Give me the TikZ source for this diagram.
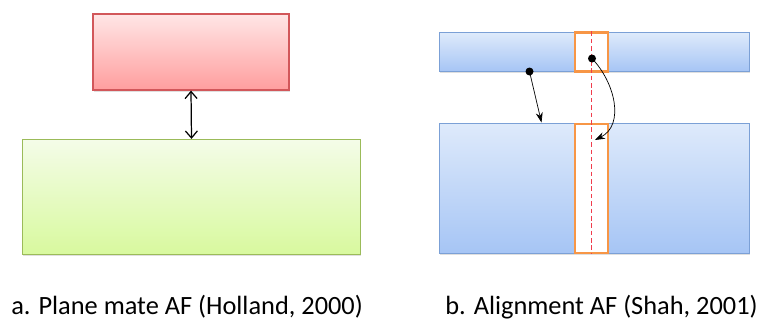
\documentclass[tikz,border=0pt]{standalone}
\usepackage{fontspec}
\setmainfont{Carlito}
\usepackage{xcolor}
\usetikzlibrary{arrows.meta, positioning, calc, shadows}
\definecolor{redtop}{HTML}{FFE6E6}
\definecolor{redbot}{HTML}{FF9E9E}
\definecolor{redline}{HTML}{D2575A}
\definecolor{greentop}{HTML}{F4FCE8}
\definecolor{greenbot}{HTML}{D8F99E}
\definecolor{greenline}{HTML}{9BBB59}
\definecolor{bluetop}{HTML}{DEEAFB}
\definecolor{bluebot}{HTML}{A6C5F5}
\definecolor{blueline}{HTML}{7BA0D6}
\definecolor{orangeline}{HTML}{F79646}
\definecolor{axisred}{HTML}{F03C4C}
\tikzset{
	plate/.style={rectangle, draw, line width=0.7pt, inner sep=0pt,
		drop shadow={opacity=0.25, shadow xshift=0.4pt, shadow yshift=-0.9pt}},
	caption/.style={font=\fontsize{15}{18}\selectfont, inner sep=0pt, anchor=base west}
}

\begin{document}
\begin{tikzpicture}[
	redplate/.style={plate, draw=redline, top color=redtop, bottom color=redbot},
	greenplate/.style={plate, draw=greenline, top color=greentop, bottom color=greenbot},
	blueplate/.style={plate, draw=blueline, top color=bluetop, bottom color=bluebot},
	window/.style={rectangle, draw=orangeline, line width=1.2pt, fill=white, inner sep=0pt, minimum width=6.5mm},
	dot/.style={circle, fill=black, inner sep=0pt, minimum size=1.6mm},
	centreline/.style={draw=axisred, line width=1.1pt, dash pattern=on 2.6pt off 1.6pt},
	>={Stealth[length=2mm, width=1.4mm]}
	]
	\useasboundingbox (0,0) rectangle (15.24,6.4);
	
	% Plane mate: upper and lower plates
	\node[redplate, minimum width=39.2mm, minimum height=15.2mm] (upper_plate) at (3.82,5.36) {};
	\node[greenplate, minimum width=67.5mm, minimum height=23mm] (lower_plate) at (3.83,2.46) {};
	\draw[{Straight Barb[length=1.4mm, width=2.4mm]}-{Straight Barb[length=1.4mm, width=2.4mm]}, line width=0.7pt]
		(upper_plate.south) -- (lower_plate.north);
	
	% Alignment: strip and base
	\node[blueplate, minimum width=62.1mm, minimum height=7.8mm] (top_strip) at (11.89,5.36) {};
	\node[blueplate, minimum width=62.1mm, minimum height=25.9mm] (bottom_base) at (11.89,2.63) {};
	
	% matching windows cut into both
	\node[window, minimum height=7.8mm] (top_window) at (11.83,5.36) {};
	\node[window, minimum height=25.9mm] (bottom_window) at (11.83,2.63) {};
	
	% alignment axis
	\draw[centreline] (top_window.north) -- (bottom_window.south);
	
	% transfer arrows
	\node[dot] (edge_pin) at (10.59,4.97) {};
	\node[dot] (window_pin) at (11.84,5.23) {};
	\coordinate (edge_target) at (10.83,3.95);
	\coordinate (window_target) at (11.9,3.6);
	\draw[->, thin] (edge_pin.center) -- (edge_target);
	\draw[->, thin] (window_pin.center) .. controls (12.3,4.75) and (12.5,3.9) .. (window_target);
	
	% captions
	\node[caption] (caption_a) at (0.22,0.11) {a. Plane mate AF (Holland, 2000)};
	\node[caption] (caption_b) at (8.9,0.11) {b. Alignment AF (Shah, 2001)};
	
\end{tikzpicture}
\end{document}
